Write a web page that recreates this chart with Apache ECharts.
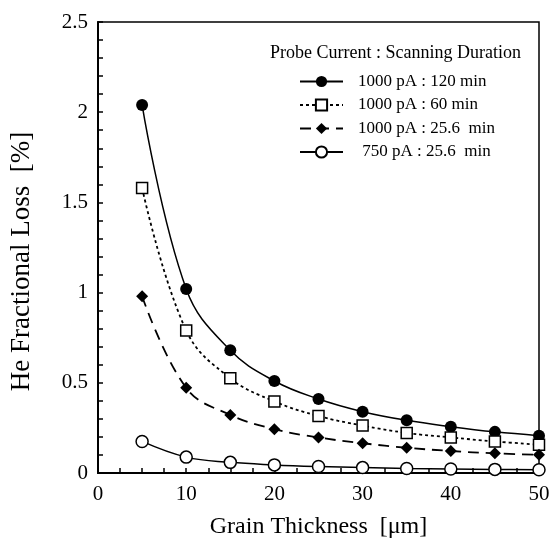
<!DOCTYPE html>
<html>
<head>
<meta charset="utf-8">
<script src="https://cdn.jsdelivr.net/npm/echarts@6/dist/echarts.min.js"></script>
<style>
  html, body { margin: 0; padding: 0; background: #fff; }
  #chart { width: 555px; height: 541px; }
</style>
</head>
<body>
<div id="chart"></div>
<script>
// grain thickness [um]
const thickness = [5, 10, 15, 20, 25, 30, 35, 40, 45, 50];

// He fractional loss [%] per probe current / scanning duration
const loss120 = [2.04, 1.02, 0.68, 0.51, 0.41, 0.34, 0.292, 0.257, 0.228, 0.207];
const loss60 = [1.58, 0.79, 0.525, 0.397, 0.316, 0.263, 0.222, 0.197, 0.175, 0.157];
const loss25 = [0.98, 0.472, 0.322, 0.243, 0.197, 0.165, 0.14, 0.122, 0.109, 0.101];
const loss750 = [0.175, 0.088, 0.059, 0.045, 0.036, 0.03, 0.025, 0.022, 0.02, 0.018];

const seriesNames = [
  '1000 pA : 120 min',
  '1000 pA : 60 min',
  '1000 pA : 25.6  min',
  ' 750 pA : 25.6  min'
];

const serif = '"Liberation Serif", "DejaVu Serif", serif';

const pairs = (ys) => thickness.map((x, i) => [x, ys[i]]);

const chart = echarts.init(document.getElementById('chart'));

const option = {
  animation: false,
  backgroundColor: '#fff',
  textStyle: { fontFamily: serif, color: '#000' },
  title: {
    text: 'Probe Current : Scanning Duration',
    left: 265,
    top: 39,
    textStyle: { fontFamily: serif, fontSize: 18, fontWeight: 'normal', color: '#000' }
  },
  legend: {
    orient: 'vertical',
    left: 294,
    top: 68,
    itemWidth: 43,
    itemHeight: 14,
    itemGap: 6.5,
    textStyle: { fontFamily: serif, fontSize: 17, color: '#000', padding: [0, 0, 0, 10] },
    data: seriesNames
  },
  grid: {
    left: 98,
    right: 16,
    top: 22,
    bottom: 68,
    containLabel: false,
    outerBoundsMode: 'none',
    show: true,
    borderColor: '#000',
    borderWidth: 1.5
  },
  xAxis: {
    type: 'value',
    min: 0,
    max: 50,
    interval: 10,
    name: 'Grain Thickness  [\u03bcm]',
    nameLocation: 'middle',
    nameGap: 42,
    nameTextStyle: { fontFamily: serif, fontSize: 24, color: '#000' },
    axisLine: { lineStyle: { color: '#000', width: 2 } },
    axisTick: { inside: true, length: 5, lineStyle: { color: '#000', width: 1.5 } },
    minorTick: { show: true, splitNumber: 4, length: 5, lineStyle: { color: '#000', width: 1.5 } },
    splitLine: { show: false },
    axisLabel: { fontFamily: serif, fontSize: 21, color: '#000', margin: 11 }
  },
  yAxis: {
    type: 'value',
    min: 0,
    max: 2.5,
    interval: 0.5,
    name: 'He Fractional Loss  [%]',
    nameLocation: 'middle',
    nameGap: 63,
    nameTextStyle: { fontFamily: serif, fontSize: 27, color: '#000', padding: [0, 28, 0, 0] },
    axisLine: { lineStyle: { color: '#000', width: 2 } },
    axisTick: { inside: true, length: 5, lineStyle: { color: '#000', width: 1.5 } },
    minorTick: { show: true, splitNumber: 5, length: 5, lineStyle: { color: '#000', width: 1.5 } },
    splitLine: { show: false },
    axisLabel: { fontFamily: serif, fontSize: 21, color: '#000', margin: 10 }
  },
  series: [
    {
      name: seriesNames[0],
      type: 'line',
      data: pairs(loss120),
      smooth: 0.4,
      symbol: 'circle',
      symbolSize: 12,
      lineStyle: { color: '#000', width: 1.5 },
      itemStyle: { color: '#000' }
    },
    {
      name: seriesNames[1],
      type: 'line',
      data: pairs(loss60),
      smooth: 0.4,
      symbol: 'rect',
      symbolSize: 11,
      lineStyle: { color: '#000', width: 1.8, type: [3, 3] },
      itemStyle: { color: '#fff', borderColor: '#000', borderWidth: 1.5 }
    },
    {
      name: seriesNames[2],
      type: 'line',
      data: pairs(loss25),
      smooth: 0.4,
      symbol: 'diamond',
      symbolSize: 12,
      lineStyle: { color: '#000', width: 1.8, type: [11, 7] },
      itemStyle: { color: '#000' }
    },
    {
      name: seriesNames[3],
      type: 'line',
      data: pairs(loss750),
      smooth: 0.4,
      symbol: 'circle',
      symbolSize: 12,
      lineStyle: { color: '#000', width: 1.5 },
      itemStyle: { color: '#fff', borderColor: '#000', borderWidth: 1.5 }
    }
  ]
};

chart.setOption(option);
</script>
</body>
</html>
